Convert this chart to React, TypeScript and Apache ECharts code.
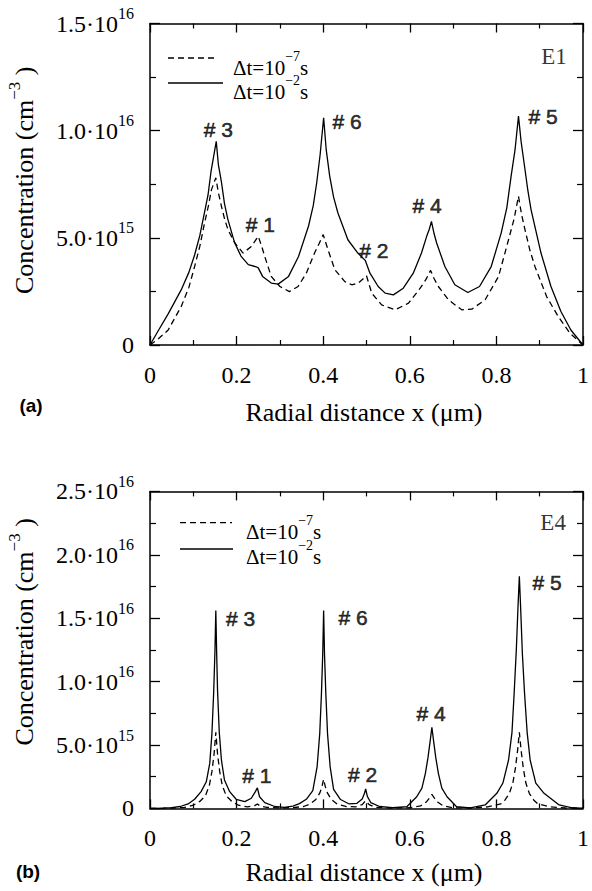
import React, { useEffect, useRef } from 'react';
import * as echarts from 'echarts';

// ---------- data (concentration values in units of 1e15 cm^-3) ----------
const xTickValues = [0, 0.2, 0.4, 0.6, 0.8, 1];
const xTickLabels = ['0', '0.2', '0.4', '0.6', '0.8', '1'];

const yTickValuesE1 = [0, 5, 10, 15];
const yTickLabelsE1 = ['0', '5.0·10^15', '1.0·10^16', '1.5·10^16'];
const yTickValuesE4 = [0, 5, 10, 15, 20, 25];
const yTickLabelsE4 = ['0', '5.0·10^15', '1.0·10^16', '1.5·10^16', '2.0·10^16', '2.5·10^16'];

const seriesNames = ['Δt=10⁻⁷s', 'Δt=10⁻²s'];
const legendParts = [
  { base: 'Δt=10', exp: '−7', unit: 's' },
  { base: 'Δt=10', exp: '−2', unit: 's' },
];

// panel (a) E1, Δt = 1e-7 s (dashed)
const e1Short: [number, number][] = [
  [0, 0], [0.02, 0.3], [0.042, 0.7], [0.072, 1.79], [0.09, 2.7], [0.103, 3.66], [0.115, 4.6],
  [0.126, 5.69], [0.135, 6.5], [0.142, 7.25], [0.152, 7.8], [0.158, 7.1], [0.165, 6.47],
  [0.172, 5.9], [0.18, 5.38], [0.196, 4.76], [0.215, 4.29], [0.234, 4.6], [0.25, 5.07],
  [0.258, 4.6], [0.265, 4.13], [0.28, 3.2], [0.3, 2.73], [0.322, 2.49], [0.342, 2.73],
  [0.361, 3.35], [0.38, 4.29], [0.391, 4.75], [0.4, 5.15], [0.411, 4.45], [0.427, 3.51],
  [0.45, 2.96], [0.466, 2.81], [0.481, 2.89], [0.5, 3.23], [0.512, 2.42], [0.535, 1.87],
  [0.566, 1.64], [0.597, 1.95], [0.624, 2.65], [0.637, 3.05], [0.648, 3.48], [0.656, 3.1],
  [0.666, 2.73], [0.689, 2.11], [0.72, 1.64], [0.743, 1.67], [0.774, 2.11], [0.805, 3.2],
  [0.828, 4.91], [0.841, 5.9], [0.851, 6.94], [0.858, 6.1], [0.866, 5.38], [0.877, 4.45],
  [0.889, 3.66], [0.916, 2.26], [0.943, 1.32], [0.97, 0.55], [1, 0],
];
// panel (a) E1, Δt = 1e-2 s (solid)
const e1Long: [number, number][] = [
  [0, 0], [0.02, 0.7], [0.042, 1.45], [0.072, 2.57], [0.09, 3.4], [0.103, 4.2], [0.115, 5.1],
  [0.126, 6.2], [0.134, 7.0], [0.141, 8.1], [0.147, 8.8], [0.153, 9.5], [0.158, 8.4],
  [0.165, 7.6], [0.172, 6.6], [0.18, 5.85], [0.195, 4.8], [0.21, 4.15], [0.227, 3.75],
  [0.245, 3.65], [0.25, 3.6], [0.26, 3.2], [0.28, 2.89], [0.296, 2.84], [0.32, 3.2],
  [0.343, 4.13], [0.366, 5.54], [0.377, 6.5], [0.385, 7.57], [0.393, 8.9], [0.401, 10.6],
  [0.407, 9.1], [0.415, 7.88], [0.424, 6.9], [0.434, 6.16], [0.457, 4.91], [0.48, 4.29],
  [0.497, 3.95], [0.508, 3.35], [0.527, 2.73], [0.543, 2.42], [0.562, 2.34], [0.585, 2.65],
  [0.608, 3.35], [0.627, 4.29], [0.639, 5.07], [0.645, 5.4], [0.65, 5.77], [0.656, 5.2],
  [0.662, 4.76], [0.681, 3.66], [0.704, 2.81], [0.734, 2.45], [0.761, 2.73], [0.788, 3.66],
  [0.811, 5.22], [0.824, 6.4], [0.834, 7.88], [0.843, 9.1], [0.851, 10.68], [0.857, 9.5],
  [0.865, 8.34], [0.872, 7.3], [0.88, 6.32], [0.903, 4.29], [0.926, 2.73], [0.949, 1.56],
  [0.972, 0.7], [1, 0],
];

// panel (b) E4, Δt = 1e-7 s (dashed)
const e4Short: [number, number][] = [
  [0, 0], [0.05, 0.02], [0.08, 0.08], [0.1, 0.25], [0.115, 0.55], [0.128, 1.0], [0.137, 1.8],
  [0.143, 2.9], [0.148, 4.3], [0.152, 6.0], [0.156, 4.3], [0.161, 2.9], [0.167, 1.8],
  [0.176, 1.0], [0.189, 0.55], [0.204, 0.25], [0.225, 0.12], [0.242, 0.22], [0.248, 0.35],
  [0.254, 0.2], [0.27, 0.08], [0.3, 0.03], [0.33, 0.06], [0.355, 0.15], [0.37, 0.35],
  [0.383, 0.7], [0.392, 1.2], [0.397, 1.7], [0.401, 2.3], [0.405, 1.7], [0.41, 1.2],
  [0.419, 0.7], [0.432, 0.35], [0.452, 0.15], [0.475, 0.12], [0.49, 0.3], [0.498, 0.6],
  [0.506, 0.3], [0.52, 0.08], [0.56, 0.03], [0.6, 0.05], [0.625, 0.2], [0.638, 0.5],
  [0.646, 0.85], [0.651, 1.1], [0.656, 0.85], [0.664, 0.5], [0.677, 0.2], [0.7, 0.05],
  [0.74, 0.03], [0.78, 0.12], [0.81, 0.35], [0.82, 0.67], [0.83, 1.19], [0.838, 2.0],
  [0.844, 3.2], [0.849, 4.6], [0.853, 6.0], [0.857, 4.6], [0.862, 3.2], [0.868, 2.0],
  [0.876, 1.19], [0.886, 0.67], [0.896, 0.35], [0.925, 0.12], [0.96, 0.03], [1, 0],
];
// panel (b) E4, Δt = 1e-2 s (solid)
const e4Long: [number, number][] = [
  [0, 0], [0.03, 0.02], [0.05, 0.06], [0.07, 0.15], [0.088, 0.35], [0.103, 0.72], [0.118, 1.32],
  [0.13, 2.1], [0.138, 3.55], [0.143, 5.9], [0.147, 9.1], [0.15, 12.4], [0.152, 15.6],
  [0.154, 12.2], [0.156, 9.3], [0.16, 6.0], [0.165, 3.8], [0.172, 2.24], [0.184, 1.32],
  [0.199, 0.72], [0.219, 0.53], [0.234, 0.8], [0.243, 1.3], [0.248, 1.62], [0.253, 0.92],
  [0.265, 0.45], [0.288, 0.15], [0.31, 0.08], [0.33, 0.18], [0.345, 0.38], [0.361, 0.72],
  [0.376, 1.4], [0.386, 3.3], [0.392, 5.9], [0.396, 9.1], [0.399, 12.3], [0.401, 15.6],
  [0.403, 12.2], [0.406, 9.1], [0.41, 5.9], [0.416, 3.3], [0.424, 1.5], [0.44, 0.7],
  [0.46, 0.35], [0.478, 0.4], [0.49, 0.75], [0.495, 1.15], [0.498, 1.53], [0.502, 0.95],
  [0.51, 0.45], [0.53, 0.15], [0.56, 0.06], [0.593, 0.13], [0.616, 0.92], [0.628, 1.6],
  [0.636, 2.77], [0.642, 4.0], [0.647, 5.3], [0.651, 6.4], [0.655, 5.3], [0.66, 4.0],
  [0.666, 2.77], [0.674, 1.6], [0.686, 0.92], [0.708, 0.13], [0.74, 0.04], [0.774, 0.27],
  [0.801, 1.19], [0.815, 2.0], [0.828, 3.8], [0.836, 6.0], [0.841, 9.08], [0.846, 12.5],
  [0.85, 16.0], [0.853, 18.3], [0.856, 15.8], [0.86, 12.2], [0.865, 9.08], [0.871, 6.0],
  [0.878, 3.8], [0.891, 2.0], [0.91, 1.19], [0.945, 0.27], [0.975, 0.05], [1, 0],
];

// annotation texts placed in data coordinates
const notesE1: [string, number, number][] = [
  ['# 3', 0.158, 10.06], ['# 1', 0.255, 5.62], ['# 6', 0.455, 10.43],
  ['# 2', 0.517, 4.4], ['# 4', 0.64, 6.53], ['# 5', 0.908, 10.65], ['E1', 0.933, 13.45],
];
const notesE4: [string, number, number][] = [
  ['# 3', 0.209, 14.94], ['# 1', 0.247, 2.56], ['# 6', 0.469, 15.09],
  ['# 2', 0.491, 2.71], ['# 4', 0.649, 7.52], ['# 5', 0.917, 17.82], ['E4', 0.931, 22.55],
];

// ---------- styles ----------
const INK = '#000000';
const SERIF = '"Liberation Serif", "DejaVu Serif", serif';
const SANS = '"Liberation Sans", Arial, sans-serif';

const richTick = {
  m: { fontFamily: SERIF, fontSize: 24, lineHeight: 34, color: INK },
  s: { fontFamily: SERIF, fontSize: 16, verticalAlign: 'top', height: 14, color: INK },
};
const richName = {
  n: { fontFamily: SERIF, fontSize: 26, lineHeight: 32, color: INK },
  s: { fontFamily: SERIF, fontSize: 17, verticalAlign: 'top', height: 12, color: INK },
};
const richLegend = {
  m: { fontFamily: SERIF, fontSize: 21, lineHeight: 36, color: INK },
  s: { fontFamily: SERIF, fontSize: 14, verticalAlign: 'top', height: 14, color: INK },
};

const toRich = (label: string) => {
  const [base, exp] = label.split('^');
  return exp ? `{m|${base}}{s|${exp}}` : `{m|${base}}`;
};

const findLabel = (values: number[], labels: string[], v: number) => {
  const i = values.findIndex((t) => Math.abs(t - v) < 1e-9);
  return i >= 0 ? labels[i] : '';
};

const GRIDS = [
  { left: 150, top: 23.5, width: 433, height: 321.5 },
  { left: 150, top: 491.4, width: 433, height: 317 },
];

function xAxes(gridIndex: number, nameGap: number) {
  const common = {
    type: 'value',
    gridIndex,
    min: 0,
    max: 1,
    interval: 0.2,
    axisLine: { show: true, onZero: false, lineStyle: { color: INK, width: 1.5 } },
    axisTick: { show: true, inside: true, length: 9, lineStyle: { color: INK, width: 1.3 } },
    minorTick: { show: true, splitNumber: 2, length: 5, lineStyle: { color: INK, width: 1.2 } },
    splitLine: { show: false },
    minorSplitLine: { show: false },
  };
  return [
    {
      ...common,
      position: 'bottom',
      axisLabel: {
        show: true,
        margin: 18,
        fontFamily: SERIF,
        fontSize: 24,
        color: INK,
        formatter: (v: number) => findLabel(xTickValues, xTickLabels, v),
      },
      name: 'Radial distance x (μm)',
      nameLocation: 'middle',
      nameGap,
      nameTextStyle: { fontFamily: SERIF, fontSize: 26, color: INK, padding: [0, 5, 0, 0] },
    },
    { ...common, position: 'top', axisLabel: { show: false } },
  ];
}

function yAxes(gridIndex: number, max: number, values: number[], labels: string[], namePadLeft: number) {
  const common = {
    type: 'value',
    gridIndex,
    min: 0,
    max,
    interval: 5,
    axisLine: { show: true, onZero: false, lineStyle: { color: INK, width: 1.5 } },
    axisTick: { show: true, inside: true, length: 10, lineStyle: { color: INK, width: 1.3 } },
    minorTick: { show: true, splitNumber: 2, length: 6, lineStyle: { color: INK, width: 1.2 } },
    splitLine: { show: false },
    minorSplitLine: { show: false },
  };
  return [
    {
      ...common,
      position: 'left',
      axisLabel: {
        show: true,
        margin: 16,
        rich: richTick,
        formatter: (v: number) => toRich(findLabel(values, labels, v)),
      },
      name: '{n|Concentration (cm}{s|−3}{n| )}',
      nameLocation: 'middle',
      nameRotate: 90,
      nameGap: 110,
      nameTextStyle: { rich: richName, padding: [0, 0, 0, namePadLeft] },
    },
    { ...common, position: 'right', axisLabel: { show: false } },
  ];
}

function curve(name: string, data: [number, number][], axis: number, dashed: boolean) {
  return {
    type: 'line',
    name,
    xAxisIndex: axis,
    yAxisIndex: axis,
    data,
    symbol: 'none',
    showSymbol: false,
    smooth: false,
    silent: true,
    lineStyle: { color: INK, width: 1.3, type: dashed ? [6, 4] : 'solid' },
    z: dashed ? 3 : 4,
  };
}

function notes(items: [string, number, number][], axis: number) {
  return {
    type: 'scatter',
    xAxisIndex: axis,
    yAxisIndex: axis,
    symbolSize: 1,
    silent: true,
    itemStyle: { color: 'transparent' },
    z: 6,
    data: items.map(([t, x, y]) => ({
      name: t,
      value: [x, y],
      label: t.startsWith('#')
        ? {
            show: true, position: 'inside', formatter: '{b}', fontFamily: SANS, fontSize: 21,
            color: INK, textBorderColor: INK, textBorderWidth: 0.6,
          }
        : { show: true, position: 'inside', formatter: '{b}', fontFamily: SERIF, fontSize: 23, color: INK },
    })),
  };
}

function legendGraphics(x0: number, lineEnds: number[], lineYs: number[], textX: number, textYs: number[]) {
  const els: any[] = [];
  legendParts.forEach((p, i) => {
    els.push({
      type: 'line',
      silent: true,
      shape: { x1: x0, y1: lineYs[i], x2: lineEnds[i], y2: lineYs[i] },
      style: { stroke: INK, lineWidth: 1.3, lineDash: i === 0 ? [6, 4] : null },
    });
    els.push({
      type: 'text',
      silent: true,
      x: textX,
      y: textYs[i],
      style: {
        text: `{m|${p.base}}{s|${p.exp}}{m|${p.unit}}`,
        rich: richLegend,
        align: 'left',
        verticalAlign: 'middle',
        textAlign: 'left',
        textVerticalAlign: 'middle',
      },
    });
  });
  return els;
}

const panelTag = (t: string, x: number, y: number) => ({
  type: 'text',
  silent: true,
  x,
  y,
  style: {
    text: t,
    font: `bold 19px ${SANS}`,
    fill: INK,
    align: 'center',
    verticalAlign: 'middle',
    textAlign: 'center',
    textVerticalAlign: 'middle',
  },
});

const option: any = {
  animation: false,
  backgroundColor: '#ffffff',
  grid: GRIDS.map((g) => ({ ...g, containLabel: false, outerBoundsMode: 'none' })),
  xAxis: [...xAxes(0, 54), ...xAxes(1, 51)],
  yAxis: [
    ...yAxes(0, 15, yTickValuesE1, yTickLabelsE1, 8),
    ...yAxes(1, 25, yTickValuesE4, yTickLabelsE4, 36),
  ],
  series: [
    curve(seriesNames[0], e1Short, 0, true),
    curve(seriesNames[1], e1Long, 0, false),
    curve(seriesNames[0], e4Short, 2, true),
    curve(seriesNames[1], e4Long, 2, false),
    notes(notesE1, 0),
    notes(notesE4, 2),
  ],
  graphic: [
    ...legendGraphics(168, [217, 223], [58, 83], 233, [67.5, 91.5]),
    ...legendGraphics(180, [232, 233], [522.7, 549], 246, [531.7, 556.7]),
    panelTag('(a)', 31, 405),
    panelTag('(b)', 28, 871),
  ],
};

export default function App() {
  const ref = useRef<HTMLDivElement>(null);
  useEffect(() => {
    if (!ref.current) return;
    const chart = echarts.init(ref.current, undefined, { renderer: 'svg', width: 592, height: 891 });
    chart.setOption(option);
    return () => chart.dispose();
  }, []);
  return (
    <div
      ref={ref}
      style={{ position: 'absolute', left: 0, top: 0, width: 592, height: 891, background: '#fff' }}
    />
  );
}
